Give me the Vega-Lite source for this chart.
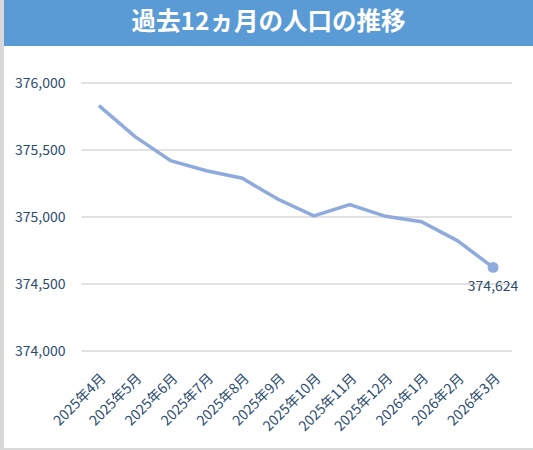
{
  "$schema": "https://vega.github.io/schema/vega-lite/v6.json",
  "background": "white",
  "padding": 0,
  "config": {
    "view": {"stroke": null},
    "font": "Noto Sans CJK JP"
  },
  "datasets": {
    "pop": [
      {"month": "2025年4月", "population": 375831},
      {"month": "2025年5月", "population": 375602},
      {"month": "2025年6月", "population": 375421},
      {"month": "2025年7月", "population": 375345},
      {"month": "2025年8月", "population": 375289},
      {"month": "2025年9月", "population": 375132},
      {"month": "2025年10月", "population": 375008},
      {"month": "2025年11月", "population": 375092},
      {"month": "2025年12月", "population": 375005},
      {"month": "2026年1月", "population": 374965},
      {"month": "2026年2月", "population": 374824},
      {"month": "2026年3月", "population": 374624}
    ],
    "grid": [
      {"level": 374000}, {"level": 374500}, {"level": 375000}, {"level": 375500}, {"level": 376000}
    ],
    "heading": [{"t": "過去12ヵ月の人口の推移"}]
  },
  "spacing": 0,
  "hconcat": [
    {
      "width": 4,
      "height": 450,
      "data": {"name": "heading"},
      "mark": {"type": "rect", "color": "#d9d9d9"},
      "encoding": {}
    },
    {
      "spacing": 30,
      "vconcat": [
        {
          "width": 529,
          "height": 46,
          "data": {"name": "heading"},
          "layer": [
            {"mark": {"type": "rect", "color": "#5B9BD5"}, "encoding": {}},
            {
              "mark": {"type": "text", "color": "white", "fontSize": 24.5, "fontWeight": "bold", "font": "Noto Sans CJK JP", "baseline": "middle", "align": "center"},
              "encoding": {"text": {"field": "t"}}
            }
          ]
        },
        {
          "spacing": 14,
          "vconcat": [
            {
              "width": 529,
              "height": 268,
              "layer": [
                {
                  "data": {"name": "grid"},
                  "mark": {"type": "rule", "color": "#d9d9d9", "strokeWidth": 1.3, "xOffset": -17.5, "x2Offset": 19},
                  "encoding": {
                    "x": {"datum": "2025年4月", "type": "ordinal"},
                    "x2": {"datum": "2026年3月"},
                    "y": {"field": "level", "type": "quantitative"}
                  }
                },
                {
                  "data": {"name": "pop"},
                  "mark": {"type": "line", "color": "#8FAADC", "strokeWidth": 3.5},
                  "encoding": {
                    "x": {"field": "month", "type": "ordinal", "sort": null},
                    "y": {"field": "population", "type": "quantitative"}
                  }
                },
                {
                  "data": {"name": "pop"},
                  "transform": [{"filter": "datum.month === '2026年3月'"}],
                  "mark": {"type": "point", "filled": true, "opacity": 1, "size": 120, "color": "#8FAADC"},
                  "encoding": {
                    "x": {"field": "month", "type": "ordinal", "sort": null},
                    "y": {"field": "population", "type": "quantitative"}
                  }
                },
                {
                  "data": {"name": "pop"},
                  "transform": [{"filter": "datum.month === '2026年3月'"}],
                  "mark": {"type": "text", "dy": 20, "fontSize": 14, "color": "#2B4C6F", "font": "Noto Sans CJK JP"},
                  "encoding": {
                    "x": {"field": "month", "type": "ordinal", "sort": null},
                    "y": {"field": "population", "type": "quantitative"},
                    "text": {"field": "population", "type": "quantitative", "format": ",.0f"}
                  }
                }
              ],
              "encoding": {
                "x": {
                  "field": "month", "type": "ordinal", "sort": null,
                  "scale": {"domain": ["2025年4月", "2025年5月", "2025年6月", "2025年7月", "2025年8月", "2025年9月", "2025年10月", "2025年11月", "2025年12月", "2026年1月", "2026年2月", "2026年3月"], "range": [77, 507]},
                  "axis": {"title": null, "labelAngle": -45, "domain": false, "ticks": false, "grid": false, "labelPadding": 20, "labelFontSize": 14, "labelColor": "#2B4C6F", "labelFont": "Noto Sans CJK JP"}
                },
                "y": {
                  "field": "population", "type": "quantitative",
                  "scale": {"domain": [374000, 376000], "nice": false, "zero": false},
                  "axis": {"title": null, "offset": -77, "values": [374000, 374500, 375000, 375500, 376000], "format": ",.0f", "domain": false, "ticks": false, "grid": false, "labelPadding": 16, "labelFontSize": 14, "labelColor": "#2B4C6F", "labelFont": "Noto Sans CJK JP"}
                }
              }
            },
            {
              "width": 529,
              "height": 6,
              "data": {"name": "heading"},
              "mark": {"type": "rect", "color": "#d9d9d9"},
              "encoding": {}
            }
          ]
        }
      ]
    }
  ]
}
